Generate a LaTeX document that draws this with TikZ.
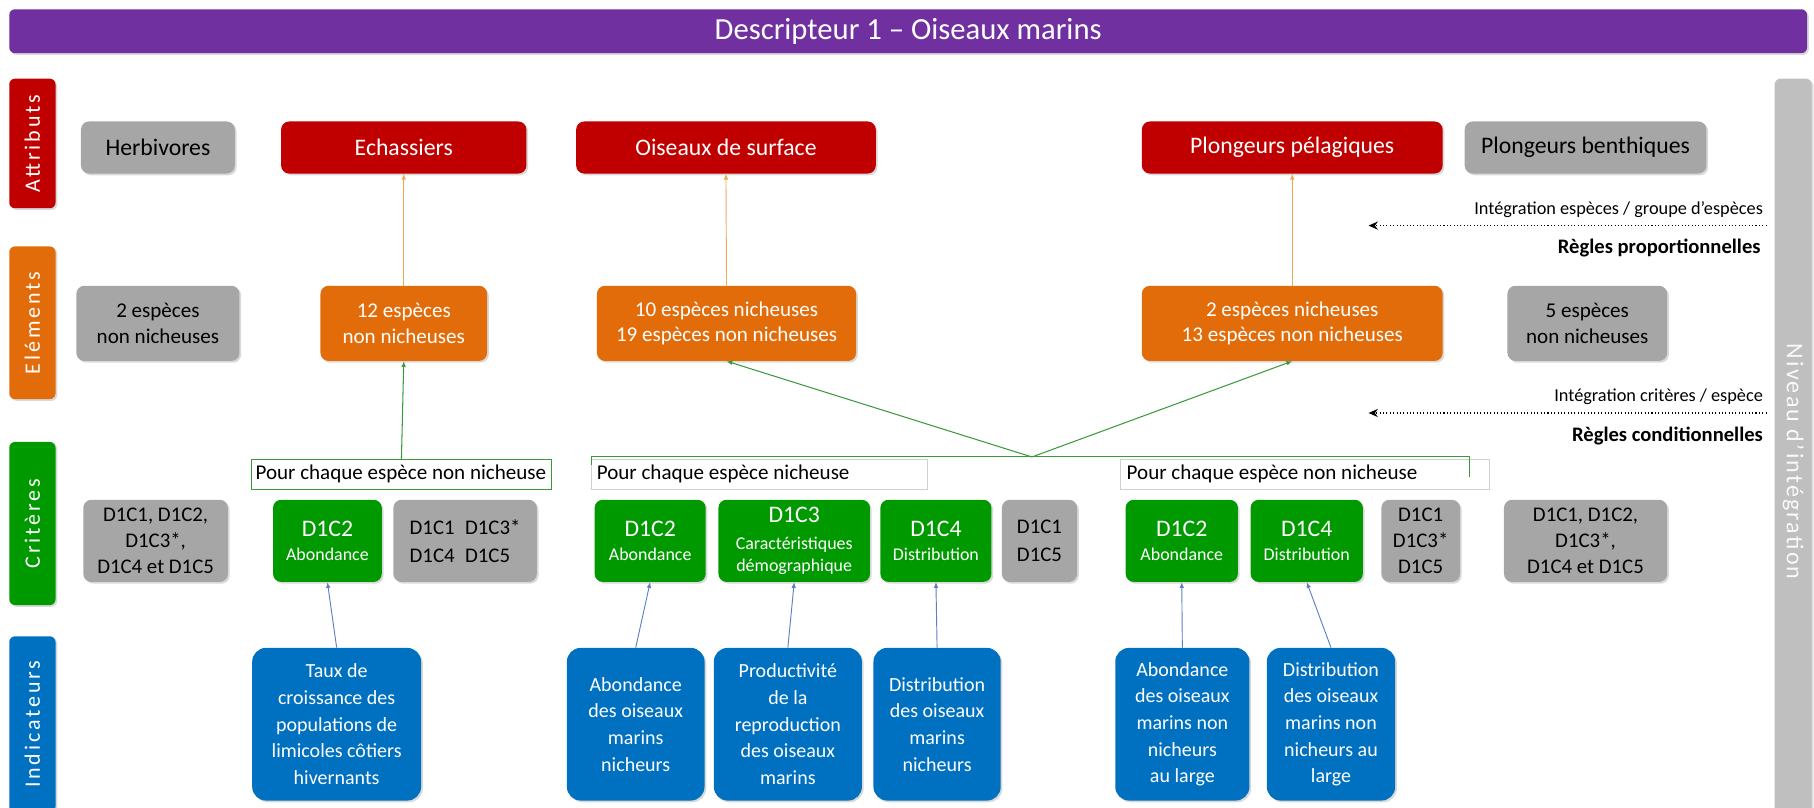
\documentclass[tikz,border=0pt]{standalone}
\usepackage{fontspec}
\setmainfont{Carlito}
\newfontfamily\spacedfont[LetterSpace=13]{Carlito}
\newfontfamily\spacedfontb[LetterSpace=9]{Carlito}
\usetikzlibrary{arrows.meta,shadows}
\definecolor{cpurple}{HTML}{7030A0}
\definecolor{cred}{HTML}{C00000}
\definecolor{corange}{HTML}{E36C0A}
\definecolor{cgreen}{HTML}{009A00}
\definecolor{cblue}{HTML}{0070C0}
\definecolor{cgray}{HTML}{A6A6A6}
\definecolor{cbar}{HTML}{BFBFBF}
\definecolor{clgreen}{HTML}{3A9A3A}
\definecolor{ctan}{HTML}{EDA85A}
\definecolor{csteel}{HTML}{5B7FC0}
\definecolor{cframe}{HTML}{D0D0D0}
\newcommand\bx[7]{%
  \pgfmathsetmacro\bxcx{(#2+#4)/2}%
  \pgfmathsetmacro\bxcy{(#3+#5)/2}%
  \pgfmathsetmacro\bxw{#4-#2}%
  \pgfmathsetmacro\bxh{#5-#3}%
  \node[#6,minimum width=\bxw pt,minimum height=\bxh pt] (#1) at (\bxcx,\bxcy) {#7};}
\newcommand\vbx[8]{%
  \pgfmathsetmacro\bxcx{(#2+#4)/2}%
  \pgfmathsetmacro\bxcy{(#3+#5)/2}%
  \pgfmathsetmacro\bxw{#4-#2}%
  \pgfmathsetmacro\bxh{#5-#3}%
  \node[#6,minimum width=\bxh pt,minimum height=\bxw pt,rotate=#7] (#1) at (\bxcx,\bxcy) {#8};}
\newcommand\crittxt[2]{{\fontsize{20.5}{22}\selectfont #1}\\#2}
\begin{document}
\begin{tikzpicture}[x=1pt,y=-1pt,
  box/.style={rounded corners=7pt,inner sep=0pt,align=center,
    drop shadow={shadow xshift=1.5pt,shadow yshift=-1.5pt,opacity=0.3}},
  attr/.style={box,fill=cred,text=white,font=\fontsize{20.5}{23}\selectfont},
  greyattr/.style={box,fill=cgray,text=black,font=\fontsize{20.5}{23}\selectfont},
  elem/.style={box,fill=corange,text=white,font=\fontsize{18.2}{22}\selectfont},
  greyelem/.style={box,fill=cgray,text=black,font=\fontsize{18.2}{22}\selectfont},
  crit/.style={box,fill=cgreen,text=white,font=\fontsize{15.5}{20.5}\selectfont},
  greycrit/.style={box,fill=cgray,text=black,font=\fontsize{18}{22.5}\selectfont},
  ind/.style={box,fill=cblue,text=white,rounded corners=12pt,font=\fontsize{17.3}{23}\selectfont},
  rowlab/.style={box,rounded corners=5pt,text=white,font=\spacedfont\fontsize{19}{22}\selectfont},
  frame/.style={draw=cframe,line width=0.6pt,inner sep=0pt},
  frametxt/.style={anchor=west,inner sep=0pt,font=\fontsize{18.2}{20}\selectfont},
  oarrow/.style={draw=ctan,line width=0.8pt,-{Latex[length=5pt,width=4pt]}},
  garrow/.style={draw=clgreen,line width=0.9pt,-{Latex[length=5pt,width=4pt]}},
  gline/.style={draw=clgreen,line width=0.9pt},
  barrow/.style={draw=csteel,line width=0.8pt,-{Latex[length=5pt,width=4pt]}},
  dotarrow/.style={draw=black,line width=0.9pt,dotted,-{Stealth[length=8pt,width=7pt]}},
  smalllab/.style={anchor=base east,inner sep=0pt,font=\fontsize{15.8}{18}\selectfont},
  boldlab/.style={anchor=base east,inner sep=0pt,font=\bfseries\fontsize{17.8}{20}\selectfont}
]
\useasboundingbox (0,0) rectangle (1568,698);
% title
\bx{title}{8}{8}{1562}{46}{box,rounded corners=5pt,fill=cpurple,text=white,font=\fontsize{26.5}{30}\selectfont}{Descripteur 1 – Oiseaux marins}
% row labels
\vbx{lattr}{8}{68}{48}{180}{rowlab,fill=cred}{90}{Attributs}
\vbx{lelem}{8}{213}{48}{345}{rowlab,fill=corange}{90}{Eléments}
\vbx{lcrit}{8}{382}{48}{523}{rowlab,fill=cgreen}{90}{Critères}
\vbx{lind}{8}{550}{48}{702}{rowlab,fill=cblue}{90}{Indicateurs}
\vbx{lniv}{1534}{68}{1566}{730}{rowlab,fill=cbar,text=white!95!gray,font=\spacedfontb\fontsize{20.8}{24}\selectfont}{-90}{Niveau d’intégration}
% attributes
\bx{a1}{70}{105}{203}{150}{greyattr}{Herbivores}
\bx{a2}{243}{105}{455}{150}{attr}{Echassiers}
\bx{a3}{498}{105}{757}{150}{attr}{Oiseaux de surface}
\bx{a4}{987}{105}{1247}{150}{attr}{Plongeurs pélagiques}
\bx{a5}{1266}{105}{1475}{150}{greyattr}{Plongeurs benthiques}
% elements
\bx{e1}{66}{247}{207}{312}{greyelem}{2 espèces\\non nicheuses}
\bx{e2}{277}{247}{421}{312}{elem}{12 espèces\\non nicheuses}
\bx{e3}{516}{247}{740}{312}{elem}{10 espèces nicheuses\\19 espèces non nicheuses}
\bx{e4}{987}{247}{1247}{312}{elem}{2 espèces nicheuses\\13 espèces non nicheuses}
\bx{e5}{1303}{247}{1441}{312}{greyelem}{5 espèces\\non nicheuses}
% orange arrows
\draw[oarrow] (e2.north) -- (a2.south);
\draw[oarrow] (e3.north) -- (a3.south);
\draw[oarrow] (e4.north) -- (a4.south);
% integration labels
\node[smalllab] (l1) at (1524,185) {Intégration espèces / groupe d’espèces};
\coordinate (d1s) at (1527,195);
\coordinate (d1e) at (1183,195);
\draw[dotarrow] (d1s) -- (d1e);
\node[boldlab] (l2) at (1522,219) {Règles proportionnelles};
\node[smalllab] (l3) at (1524,347) {Intégration critères / espèce};
\coordinate (d2s) at (1527,357);
\coordinate (d2e) at (1183,357);
\draw[dotarrow] (d2s) -- (d2e);
\node[boldlab] (l4) at (1524,382) {Règles conditionnelles};
% frames
\bx{f1}{217}{397}{477}{423}{frame,draw=clgreen}{}
\node[frametxt] (f1t) at ([xshift=4pt]f1.west) {Pour chaque espèce non nicheuse};
\bx{f2}{511}{397}{802}{423}{frame}{}
\node[frametxt] (f2t) at ([xshift=5pt]f2.west) {Pour chaque espèce nicheuse};
\bx{f3}{968}{397}{1287}{423}{frame}{}
\node[frametxt] (f3t) at ([xshift=6pt]f3.west) {Pour chaque espèce non nicheuse};
% green connectors
\draw[garrow] (f1.north) -- (e2.south);
\coordinate (gbl) at (511,402);
\coordinate (gtl) at (511,395);
\coordinate (apex) at (892,395);
\coordinate (gtr) at (1270,395);
\coordinate (gbr) at (1270,412);
\draw[gline] (gbl) -- (gtl) -- (gtr) -- (gbr);
\draw[garrow] (apex) -- (e3.south);
\draw[garrow] (apex) -- (e4.south);
% criteria
\bx{c1}{72}{432}{197}{503}{greycrit}{D1C1, D1C2,\\D1C3*,\\D1C4 et D1C5}
\bx{c2}{236}{432}{330}{503}{crit}{\crittxt{D1C2}{Abondance}}
\bx{c3}{340}{432}{464}{503}{greycrit,font=\fontsize{18}{24}\selectfont}{D1C1\enspace D1C3*\\D1C4\enspace D1C5\phantom{*}}
\bx{c4}{514}{432}{610}{503}{crit}{\crittxt{D1C2}{Abondance}}
\bx{c5}{621}{432}{752}{503}{crit,font=\fontsize{15.5}{19}\selectfont}{{\fontsize{20.5}{22}\selectfont D1C3}\\[4pt]Caractéristiques\\démographique}
\bx{c6}{761}{432}{857}{503}{crit}{\crittxt{D1C4}{Distribution}}
\bx{c7}{866}{432}{931}{503}{greycrit,font=\fontsize{18}{24}\selectfont}{D1C1\\D1C5}
\bx{c8}{973}{432}{1070}{503}{crit}{\crittxt{D1C2}{Abondance}}
\bx{c9}{1081}{432}{1178}{503}{crit}{\crittxt{D1C4}{Distribution}}
\bx{c10}{1194}{432}{1262}{503}{greycrit}{D1C1\\D1C3*\\D1C5}
\bx{c11}{1300}{432}{1441}{503}{greycrit}{D1C1, D1C2,\\D1C3*,\\D1C4 et D1C5}
% indicators
\bx{i1}{218}{560}{364}{692}{ind}{Taux de\\croissance des\\populations de\\limicoles côtiers\\hivernants}
\bx{i2}{490}{560}{609}{692}{ind}{Abondance\\des oiseaux\\marins\\nicheurs}
\bx{i3}{617}{560}{745}{692}{ind}{Productivité\\de la\\reproduction\\des oiseaux\\marins}
\bx{i4}{755}{560}{865}{692}{ind}{Distribution\\des oiseaux\\marins\\nicheurs}
\bx{i5}{964}{560}{1080}{692}{ind}{Abondance\\des oiseaux\\marins non\\nicheurs\\au large}
\bx{i6}{1095}{560}{1206}{692}{ind}{Distribution\\des oiseaux\\marins non\\nicheurs au\\large}
% blue arrows
\draw[barrow] (i1.north) -- (c2.south);
\draw[barrow] (i2.north) -- (c4.south);
\draw[barrow] (i3.north) -- (c5.south);
\draw[barrow] (i4.north) -- (c6.south);
\draw[barrow] (i5.north) -- (c8.south);
\draw[barrow] (i6.north) -- (c9.south);
\end{tikzpicture}
\end{document}
